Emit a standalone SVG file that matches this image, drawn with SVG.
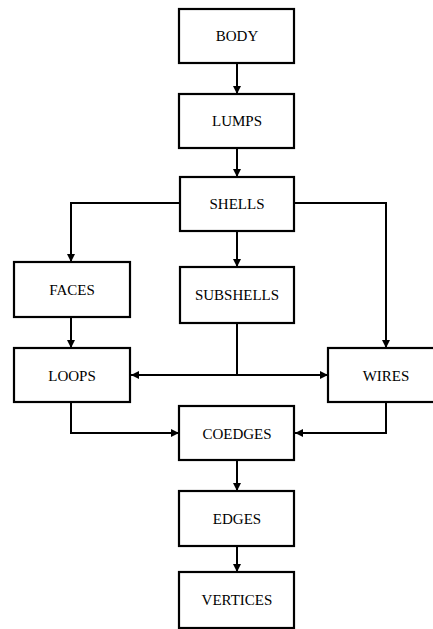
<svg xmlns="http://www.w3.org/2000/svg" width="433" height="629" viewBox="0 0 433 629">
<style>
.box{fill:#fff;stroke:#000;stroke-width:2.2}
.lbl{font-family:"Liberation Serif","Times New Roman",serif;font-size:15px;fill:#000;text-anchor:middle}
.con{fill:none;stroke:#000;stroke-width:2}
</style>
<defs>
<marker id="ah" markerUnits="userSpaceOnUse" markerWidth="10" markerHeight="10" refX="9" refY="5" orient="auto-start-reverse" viewBox="0 0 10 10">
<path d="M1,1 L9,5 L1,9 Z" fill="#000"/>
</marker>
</defs>
<rect width="433" height="629" fill="#fff"/>
<g id="connectors">
<path class="con" d="M237,63 V94" marker-end="url(#ah)"/>
<path class="con" d="M237,148 V177" marker-end="url(#ah)"/>
<path class="con" d="M237,231 V267" marker-end="url(#ah)"/>
<path class="con" d="M180,203 H71 V262" marker-end="url(#ah)"/>
<path class="con" d="M294,203 H386 V348" marker-end="url(#ah)"/>
<path class="con" d="M71,317 V348" marker-end="url(#ah)"/>
<path class="con" d="M237,323 V375"/>
<path class="con" d="M131,375 H328" marker-start="url(#ah)" marker-end="url(#ah)"/>
<path class="con" d="M71,402 V433 H179" marker-end="url(#ah)"/>
<path class="con" d="M386,402 V433 H295" marker-end="url(#ah)"/>
<path class="con" d="M237,460 V491" marker-end="url(#ah)"/>
<path class="con" d="M237,546 V572" marker-end="url(#ah)"/>
</g>
<g id="body"><rect class="box" x="179" y="9" width="115" height="54"/><text class="lbl" x="237" y="41">BODY</text></g>
<g id="lumps"><rect class="box" x="179" y="94" width="115" height="54"/><text class="lbl" x="237" y="126">LUMPS</text></g>
<g id="shells"><rect class="box" x="180" y="177" width="114" height="54"/><text class="lbl" x="237" y="209">SHELLS</text></g>
<g id="faces"><rect class="box" x="14" y="262" width="116" height="55"/><text class="lbl" x="72" y="295">FACES</text></g>
<g id="subshells"><rect class="box" x="180" y="267" width="114" height="56"/><text class="lbl" x="237" y="300">SUBSHELLS</text></g>
<g id="loops"><rect class="box" x="14" y="348" width="116" height="54"/><text class="lbl" x="72" y="381">LOOPS</text></g>
<g id="wires"><rect class="box" x="328" y="348" width="116" height="54"/><text class="lbl" x="386" y="381">WIRES</text></g>
<g id="coedges"><rect class="box" x="179" y="406" width="115" height="54"/><text class="lbl" x="237" y="439">COEDGES</text></g>
<g id="edges"><rect class="box" x="179" y="491" width="115" height="55"/><text class="lbl" x="237" y="524">EDGES</text></g>
<g id="vertices"><rect class="box" x="179" y="572" width="115" height="56"/><text class="lbl" x="237" y="605">VERTICES</text></g>
</svg>
